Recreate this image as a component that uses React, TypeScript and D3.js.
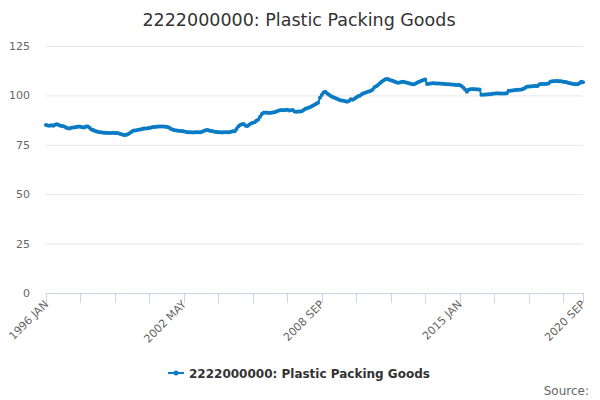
import { useEffect, useRef } from "react";
import * as d3 from "d3";

const TITLE = "2222000000: Plastic Packing Goods";
const SERIES_NAME = "2222000000: Plastic Packing Goods";
const START_YEAR = 1996;
const MONTHS = ["JAN", "FEB", "MAR", "APR", "MAY", "JUN", "JUL", "AUG", "SEP", "OCT", "NOV", "DEC"];

// monthly index values, one row per year (1996 .. 2020 SEP)
const values: number[] = [
  85.0, 84.8, 84.6, 84.9, 84.7, 85.1, 85.4, 85.0, 84.6, 84.5, 84.2, 83.8,
  83.4, 83.3, 83.6, 83.8, 83.9, 84.0, 84.2, 84.1, 83.9, 83.8, 84.2, 84.2,
  83.6, 82.8, 82.5, 82.0, 81.7, 81.5, 81.3, 81.2, 81.1, 81.1, 81.0, 81.0,
  81.0, 81.1, 81.0, 81.0, 80.8, 80.5, 80.2, 80.0, 80.0, 80.3, 80.8, 81.5,
  82.1, 82.2, 82.4, 82.6, 82.8, 83.0, 83.2, 83.3, 83.4, 83.5, 83.8, 84.0,
  84.0, 84.1, 84.2, 84.3, 84.2, 84.2, 84.1, 84.0, 83.6, 83.0, 82.6, 82.4,
  82.3, 82.1, 82.0, 82.0, 81.7, 81.6, 81.4, 81.3, 81.3, 81.2, 81.4, 81.3,
  81.3, 81.4, 81.6, 82.0, 82.4, 82.5, 82.3, 82.0, 81.8, 81.6, 81.5, 81.4,
  81.3, 81.2, 81.3, 81.3, 81.4, 81.4, 81.6, 81.8, 81.8, 83.0, 84.3, 85.0,
  85.4, 85.5, 84.6, 84.5, 85.2, 85.8, 86.2, 86.4, 87.2, 87.8, 89.2, 90.6,
  91.2, 91.3, 91.2, 91.1, 91.2, 91.3, 91.5, 91.8, 92.2, 92.5, 92.6, 92.5,
  92.6, 92.7, 92.4, 92.5, 92.6, 91.9, 91.7, 91.8, 91.9, 92.0, 92.6, 93.2,
  93.5, 93.9, 94.3, 94.8, 95.3, 95.8, 96.3, 98.8, 100.2, 101.5, 101.8, 101.0,
  100.3, 99.7, 99.2, 98.8, 98.4, 98.0, 97.6, 97.4, 97.3, 97.0, 96.8, 97.2,
  98.0, 97.8, 98.3, 99.0, 99.6, 99.8, 100.6, 101.1, 101.4, 101.7, 102.0, 102.3,
  102.8, 104.1, 104.6, 105.3, 106.2, 106.9, 107.6, 108.2, 108.3, 108.0, 107.7, 107.4,
  107.0, 106.6, 106.4, 106.5, 106.8, 106.9, 106.7, 106.4, 106.2, 105.9, 105.7, 105.6,
  106.2, 106.6, 107.0, 107.4, 107.8, 108.1, 105.8, 105.9, 106.0, 106.1, 106.1, 106.0,
  106.0, 106.0, 105.9, 105.9, 105.8, 105.7, 105.6, 105.5, 105.5, 105.4, 105.3, 105.3,
  105.2, 104.8, 104.0, 103.0, 101.9, 102.8, 103.1, 103.2, 103.1, 103.1, 103.0, 103.0,
  100.3, 100.3, 100.4, 100.5, 100.6, 100.6, 100.8, 100.9, 101.0, 101.1, 100.9, 101.0,
  101.0, 100.9, 101.1, 102.3, 102.4, 102.5, 102.6, 102.7, 102.8, 102.9, 103.0, 103.2,
  103.8, 104.4, 104.5, 104.5, 104.6, 104.7, 104.7, 104.8, 105.6, 105.8, 105.8, 105.8,
  105.9, 106.0, 106.9, 107.1, 107.2, 107.3, 107.3, 107.2, 107.1, 106.9, 106.8, 106.6,
  106.3, 106.1, 105.9, 105.8, 105.6, 105.7, 106.2, 106.9, 106.7,
];

const yTicks = [0, 25, 50, 75, 100, 125];
const TICK_STEP = 19;

const LINE_COLOR = "#0a7bc4";
const FONT = "'DejaVu Sans', Verdana, sans-serif";

function monthLabel(i: number): string {
  return `${START_YEAR + Math.floor(i / 12)} ${MONTHS[i % 12]}`;
}

export default function App() {
  const svgRef = useRef<SVGSVGElement>(null);

  useEffect(() => {
    const svgEl = svgRef.current;
    if (!svgEl) return;
    const width = 600;
    const height = 400;
    const margin = { top: 46, right: 17, bottom: 107, left: 46 };
    const innerW = width - margin.left - margin.right;
    const innerH = height - margin.top - margin.bottom;

    const svg = d3.select(svgEl);
    svg.selectAll("*").remove();

    svg
      .append("text")
      .attr("x", width / 2 - 1)
      .attr("y", 26)
      .attr("text-anchor", "middle")
      .attr("fill", "#333333")
      .attr("font-size", "17.5px")
      .attr("font-family", FONT)
      .text(TITLE);

    const g = svg
      .append("g")
      .attr("transform", `translate(${margin.left},${margin.top})`);

    const last = values.length - 1;
    const x = d3.scaleLinear().domain([0, last]).range([0, innerW]);
    const y = d3.scaleLinear().domain([0, 125]).range([innerH, 0]);

    // gridlines + y labels
    g.append("g")
      .selectAll("line")
      .data(yTicks.filter((t) => t > 0))
      .enter()
      .append("line")
      .attr("x1", 0)
      .attr("x2", innerW)
      .attr("y1", (d) => y(d) + 0.5)
      .attr("y2", (d) => y(d) + 0.5)
      .attr("stroke", "#e6e6e6");

    g.append("g")
      .selectAll("text")
      .data(yTicks)
      .enter()
      .append("text")
      .attr("x", -16)
      .attr("y", (d) => y(d) + 4)
      .attr("text-anchor", "end")
      .attr("fill", "#666666")
      .attr("font-size", "11px")
      .attr("font-family", FONT)
      .text((d) => String(d));

    // x axis
    const tickIdx = d3.range(0, last, TICK_STEP).concat([last]);
    const labelIdx = tickIdx.filter((_, k) => k % 4 === 0 || tickIdx[k] === last);

    g.append("line")
      .attr("x1", 0)
      .attr("x2", innerW)
      .attr("y1", innerH + 0.5)
      .attr("y2", innerH + 0.5)
      .attr("stroke", "#ccd6eb");

    g.append("g")
      .selectAll("line")
      .data(tickIdx)
      .enter()
      .append("line")
      .attr("x1", (d) => Math.round(x(d)) + 0.5)
      .attr("x2", (d) => Math.round(x(d)) + 0.5)
      .attr("y1", innerH)
      .attr("y2", innerH + 10)
      .attr("stroke", "#ccd6eb");

    g.append("g")
      .selectAll("text")
      .data(labelIdx)
      .enter()
      .append("text")
      .attr("transform", (d) => `translate(${x(d) + 3},${innerH + 12}) rotate(-45)`)
      .attr("text-anchor", "end")
      .attr("fill", "#666666")
      .attr("font-size", "11px")
      .attr("font-family", FONT)
      .text((d) => monthLabel(d));

    // series
    const line = d3
      .line<number>()
      .x((_, i) => x(i))
      .y((d) => y(d));

    g.append("path")
      .datum(values)
      .attr("d", line)
      .attr("fill", "none")
      .attr("stroke", LINE_COLOR)
      .attr("stroke-width", 2);

    g.append("g")
      .selectAll("circle")
      .data(values)
      .enter()
      .append("circle")
      .attr("cx", (_, i) => x(i))
      .attr("cy", (d) => y(d))
      .attr("r", 2)
      .attr("fill", LINE_COLOR);

    // legend
    const legend = svg.append("g").attr("transform", "translate(168,373)");
    legend
      .append("line")
      .attr("x1", 0)
      .attr("x2", 16)
      .attr("y1", 0)
      .attr("y2", 0)
      .attr("stroke", LINE_COLOR)
      .attr("stroke-width", 2);
    legend
      .append("circle")
      .attr("cx", 8)
      .attr("cy", 0)
      .attr("r", 2.5)
      .attr("fill", LINE_COLOR);
    legend
      .append("text")
      .attr("x", 21)
      .attr("y", 4.5)
      .attr("fill", "#333333")
      .attr("font-size", "12px")
      .attr("font-weight", "bold")
      .attr("font-family", FONT)
      .text(SERIES_NAME);

    svg
      .append("text")
      .attr("x", 589)
      .attr("y", 395)
      .attr("text-anchor", "end")
      .attr("fill", "#666666")
      .attr("font-size", "12px")
      .attr("font-family", FONT)
      .text("Source:");
  }, []);

  return (
    <svg
      ref={svgRef}
      width={600}
      height={400}
      style={{ position: "absolute", left: 0, top: 0, display: "block", background: "#ffffff" }}
    />
  );
}
